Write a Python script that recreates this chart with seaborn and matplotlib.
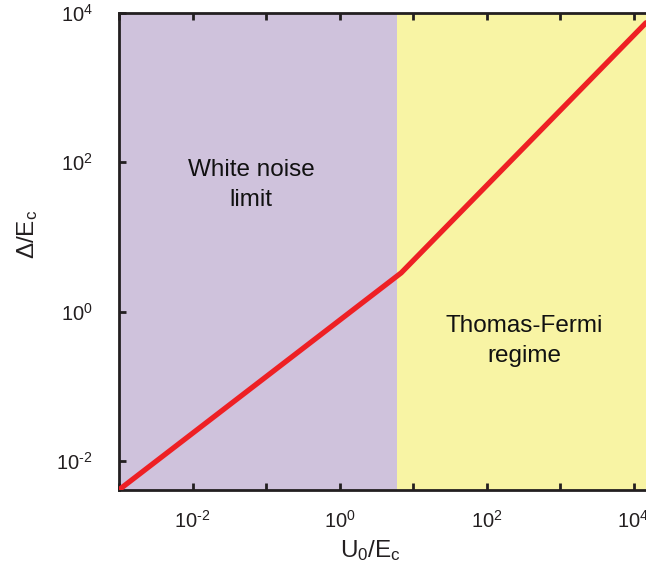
import numpy as np
import pandas as pd
import matplotlib
matplotlib.use("Agg")
import matplotlib.pyplot as plt
import seaborn as sns
from matplotlib.ticker import LogLocator, NullLocator

# Crossover curve Delta/E_c versus U0/E_c (log-log)
u0 = [1e-3, 6.9, 1.48e4]
delta = [4.1e-3, 3.3, 7.4e3]

# Regime boundary and axis ranges
boundary = 6.0
x_range = [1e-3, 10 ** 4.17]
y_range = [10 ** -2.39, 1e4]

regions = ["White noise\nlimit", "Thomas-Fermi\nregime"]
region_pos = [(0.063, 50.0), (330.0, 0.40)]

sns.set_style("ticks")
plt.rcParams["font.family"] = ["Liberation Sans", "DejaVu Sans"]
plt.rcParams["mathtext.fontset"] = "custom"
plt.rcParams["mathtext.rm"] = "Liberation Sans"
plt.rcParams["mathtext.it"] = "Liberation Sans"
plt.rcParams["mathtext.default"] = "regular"

ink = "#231F20"
fig = plt.figure(figsize=(6.46, 5.71), dpi=100)
ax = fig.add_axes([119 / 646, 81 / 571, 527 / 646, 477 / 571])

ax.axvspan(x_range[0], boundary, color="#CFC2DC", lw=0, zorder=0)
ax.axvspan(boundary, x_range[1], color="#F8F4A4", lw=0, zorder=0)

df = pd.DataFrame({"u0": u0, "delta": delta})
sns.lineplot(data=df, x="u0", y="delta", ax=ax, color="#EE2024", lw=3.8,
             solid_joinstyle="miter", zorder=3)

ax.set_xscale("log")
ax.set_yscale("log")
ax.set_xlim(x_range)
ax.set_ylim(y_range)

ax.xaxis.set_major_locator(LogLocator(base=10, numticks=20))
ax.xaxis.set_minor_locator(NullLocator())
ax.yaxis.set_major_locator(LogLocator(base=100, numticks=20))
ax.yaxis.set_minor_locator(NullLocator())

def sci_label(v, pos):
    e = int(round(np.log10(v)))
    if e % 2:
        return ""
    sign = "\u2010" if e < 0 else ""
    return r"$10^{%s%d}$" % (sign, abs(e))

ax.xaxis.set_major_formatter(plt.FuncFormatter(sci_label))
ax.yaxis.set_major_formatter(plt.FuncFormatter(sci_label))

for s in ["left", "bottom", "top"]:
    ax.spines[s].set_color(ink)
    ax.spines[s].set_linewidth(2.0)
ax.spines["right"].set_visible(False)
ax.tick_params(which="both", direction="in", length=5, width=2.0, color=ink,
               labelsize=14.5, labelcolor=ink, top=True, right=False)
ax.tick_params(axis="x", pad=14)
ax.tick_params(axis="y", pad=19)

ax.set_xlabel(r"U$_0$/E$_c$", fontsize=17.5, color=ink)
ax.set_ylabel(r"Δ/E$_c$", fontsize=17.5, color=ink, va="center")
ax.xaxis.set_label_coords(0.478, -0.100)
ax.yaxis.set_label_coords(-0.173, 0.537)

for txt, (tx, ty) in zip(regions, region_pos):
    ax.text(tx, ty, txt, ha="center", va="center", fontsize=17.5,
            color="#111111", linespacing=1.45, zorder=4)

fig.savefig("out.png", dpi=100)
